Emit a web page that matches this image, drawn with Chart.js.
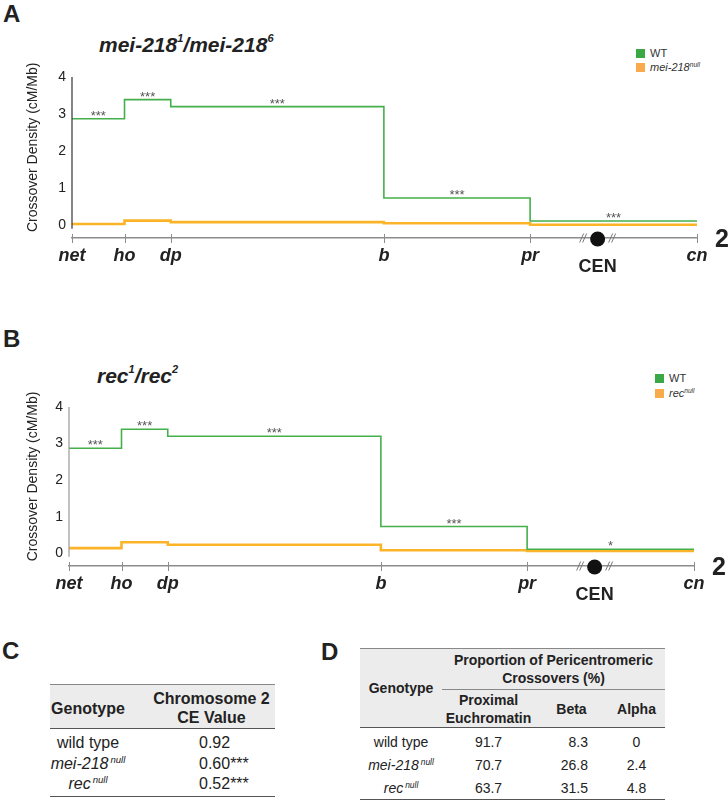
<!DOCTYPE html>
<html>
<head>
<meta charset="utf-8">
<script src="https://cdn.jsdelivr.net/npm/chart.js@4.4.0/dist/chart.umd.min.js"></script>
<style>
  body { margin: 0; width: 728px; height: 800px; position: relative; overflow: hidden;
         background: #fff; color: #222; font-family: "Liberation Sans", Arial, sans-serif; }
  .abs { position: absolute; white-space: nowrap; }
  .letter { font-weight: bold; font-size: 24px; line-height: 24px; }
  .ttl { font-weight: bold; font-style: italic; font-size: 21px; line-height: 21px; }
  .ttl sup { font-size: 11px; line-height: 0; vertical-align: 0; position: relative; top: -0.9em; }
  .sw { width: 9px; height: 9px; }
  .lg { font-size: 11px; line-height: 12px; color: #333; }
  sup.n { font-size: 60%; line-height: 0; vertical-align: 0; position: relative; top: -0.6em; margin-left: 2px; font-style: italic; }
  table { border-collapse: collapse; position: absolute; table-layout: fixed; }
  td, th { padding: 0; text-align: center; }
  thead { background: #ececec; }
  .tC { font-size: 16px; line-height: 19px; }
  .tD { font-size: 14px; line-height: 18px; }
</style>
</head>
<body>

<div class="abs letter" style="left:3px;top:2px">A</div>
<div class="abs ttl" style="left:99px;top:34px">mei-218<sup>1</sup>/mei-218<sup>6</sup></div>
<div class="abs sw" style="left:636px;top:49px;background:#3aa845"></div>
<div class="abs lg" style="left:650px;top:47px">WT</div>
<div class="abs sw" style="left:636px;top:63px;background:#f9ab4c"></div>
<div class="abs lg" style="left:650px;top:61px"><i>mei-218</i><sup class="n" style="margin-left:0">null</sup></div>
<div class="abs" style="left:0;top:60px;width:728px;height:230px"><canvas id="chartA" width="728" height="230"></canvas></div>

<div class="abs letter" style="left:3px;top:327px">B</div>
<div class="abs ttl" style="left:97px;top:365px">rec<sup>1</sup>/rec<sup>2</sup></div>
<div class="abs sw" style="left:655px;top:374px;background:#3aa845"></div>
<div class="abs lg" style="left:669px;top:372px">WT</div>
<div class="abs sw" style="left:655px;top:389px;background:#f9ab4c"></div>
<div class="abs lg" style="left:669px;top:387px"><i>rec</i><sup class="n" style="margin-left:0">null</sup></div>
<div class="abs" style="left:0;top:388px;width:728px;height:230px"><canvas id="chartB" width="728" height="230"></canvas></div>

<div class="abs letter" style="left:2px;top:639px">C</div>
<table class="tC" style="left:50px;top:684px;width:225px;border-top:1.5px solid #888;border-bottom:1.5px solid #555">
  <colgroup><col style="width:76px"><col style="width:149px"></colgroup>
  <thead style="border-bottom:1.5px solid #555">
    <tr style="height:44px"><th style="padding-top:3px">Genotype</th><th style="padding:3px 0 0 22px">Chromosome 2<br>CE Value</th></tr>
  </thead>
  <tbody>
    <tr style="height:24px"><td style="padding-top:4px">wild type</td><td style="padding-top:4px;text-align:left;padding-left:73px">0.92</td></tr>
    <tr style="height:21px"><td><i>mei-218</i><sup class="n">null</sup></td><td style="text-align:left;padding-left:73px">0.60***</td></tr>
    <tr style="height:23px"><td style="padding-bottom:3px"><i>rec</i><sup class="n">null</sup></td><td style="padding-bottom:3px;text-align:left;padding-left:73px">0.52***</td></tr>
  </tbody>
</table>

<div class="abs letter" style="left:321px;top:640px">D</div>
<table class="tD" style="left:360px;top:648px;width:305px;border-top:1.5px solid #888;border-bottom:1.5px solid #555">
  <colgroup><col style="width:82px"><col style="width:93px"><col style="width:73px"><col style="width:57px"></colgroup>
  <thead style="border-bottom:1.5px solid #555">
    <tr style="height:41px"><th rowspan="2">Genotype</th><th colspan="3" style="border-bottom:1px solid #888">Proportion of Pericentromeric<br>Crossovers (%)</th></tr>
    <tr style="height:38px"><th>Proximal<br>Euchromatin</th><th>Beta</th><th>Alpha</th></tr>
  </thead>
  <tbody>
    <tr style="height:26px"><td style="padding-top:3px">wild type</td><td style="padding-top:3px">91.7</td><td style="padding-top:3px;text-align:right;padding-right:20px">8.3</td><td style="padding-top:3px">0</td></tr>
    <tr style="height:23px"><td><i>mei-218</i><sup class="n">null</sup></td><td>70.7</td><td style="text-align:right;padding-right:20px">26.8</td><td>2.4</td></tr>
    <tr style="height:23px"><td><i>rec</i><sup class="n">null</sup></td><td>63.7</td><td style="text-align:right;padding-right:20px">31.5</td><td>4.8</td></tr>
  </tbody>
</table>

<script>
'use strict';

// ── Data ───────────────────────────────────────────────────────────────────────
const markerLabels = ['net', 'ho', 'dp', 'b', 'pr', 'cn'];
const markerPos = [0, 8.4, 15.8, 49.9, 73.3, 100];   // position along chromosome 2 (% of map)
const cenPos = 84.1;
const yTicks = [0, 1, 2, 3, 4];

// crossover density per interval (cM/Mb), net-ho, ho-dp, dp-b, b-pr, pr-cn
const wtDensity = [2.87, 3.39, 3.2, 0.73, 0.11];
const mei218Density = [0.03, 0.12, 0.08, 0.05, 0.01];
const recDensity = [0.14, 0.3, 0.23, 0.08, 0.06];

const mei218Stars = ['***', '***', '***', '***', '***'];
const recStars = ['***', '***', '***', '***', '*'];

const GREEN = '#45b04b';
const ORANGE = '#fbb428';
const FONT = '"Liberation Sans", Arial, sans-serif';

// ── Helpers ────────────────────────────────────────────────────────────────────

function toSteps(vals) {
  return markerPos.map((p, i) => ({ x: p, y: vals[Math.min(i, vals.length - 1)] }));
}

const markPlugin = {
  id: 'marks',
  afterDatasetsDraw(chart, args, opts) {
    const { ctx, chartArea, scales: { x, y } } = chart;
    const base = chartArea.bottom;
    ctx.save();

    // y axis line (stops short of the chromosome line)
    ctx.strokeStyle = opts.axisColor;
    ctx.lineWidth = 1.2;
    ctx.beginPath();
    ctx.moveTo(chartArea.left, y.getPixelForValue(4));
    ctx.lineTo(chartArea.left, y.getPixelForValue(-0.1));
    ctx.stroke();

    // y axis title, centred on the 0-4 range
    ctx.save();
    ctx.translate(33, (y.getPixelForValue(4.2) + y.getPixelForValue(0)) / 2);
    ctx.rotate(-Math.PI / 2);
    ctx.fillStyle = '#222';
    ctx.font = '14px ' + FONT;
    ctx.textAlign = 'center';
    ctx.textBaseline = 'middle';
    ctx.fillText('Crossover Density (cM/Mb)', 0, 0);
    ctx.restore();

    // marker ticks across the chromosome line
    ctx.strokeStyle = '#8c8c8c';
    ctx.lineWidth = 1;
    markerPos.forEach(v => {
      const px = Math.round(x.getPixelForValue(v)) + 0.5;
      ctx.beginPath();
      ctx.moveTo(px, base - 4);
      ctx.lineTo(px, base + 5);
      ctx.stroke();
    });

    // significance stars above the WT steps
    ctx.fillStyle = '#555';
    ctx.font = '13px ' + FONT;
    ctx.textAlign = 'center';
    ctx.textBaseline = 'alphabetic';
    opts.stars.forEach((s, i) => {
      const cx = (x.getPixelForValue(markerPos[i]) + x.getPixelForValue(markerPos[i + 1])) / 2;
      ctx.fillText(s, cx, y.getPixelForValue(wtDensity[i]) + 1);
    });

    // centromere: break marks, dot, label
    const cx = x.getPixelForValue(cenPos);
    ctx.strokeStyle = '#777';
    ctx.lineWidth = 1;
    [-16, -13, 13, 16].forEach(d => {
      ctx.beginPath();
      ctx.moveTo(cx + d - 2, base + 4.5);
      ctx.lineTo(cx + d + 2, base - 4.5);
      ctx.stroke();
    });
    ctx.fillStyle = '#111';
    ctx.beginPath();
    ctx.arc(cx, base + 1, 7.5, 0, Math.PI * 2);
    ctx.fill();

    ctx.fillStyle = '#222';
    ctx.font = 'bold 18px ' + FONT;
    ctx.textBaseline = 'middle';
    ctx.fillText('CEN', cx, base + 29);

    // chromosome number
    ctx.font = 'bold 25px ' + FONT;
    ctx.textAlign = 'left';
    ctx.fillText('2', x.right + 18, base + 2);

    ctx.restore();
  }
};

function makeChart(id, mutVals, stars, leftW, rightPad, topPad, axisColor) {
  return new Chart(document.getElementById(id), {
    type: 'line',
    data: {
      datasets: [
        { label: 'WT', data: toSteps(wtDensity), borderColor: GREEN, borderWidth: 1.6,
          stepped: true, pointRadius: 0, fill: false },
        { label: 'mutant', data: toSteps(mutVals), borderColor: ORANGE, borderWidth: 2.6,
          stepped: true, pointRadius: 0, fill: false },
      ],
    },
    options: {
      responsive: false,
      animation: false,
      devicePixelRatio: 1,
      layout: { padding: { left: 0, right: rightPad, top: topPad, bottom: 0 } },
      plugins: {
        legend: { display: false },
        tooltip: { enabled: false },
        marks: { stars, axisColor },
      },
      scales: {
        x: {
          type: 'linear',
          min: 0,
          max: 100,
          grid: { display: false, drawTicks: false },
          border: { display: true, color: '#8c8c8c', width: 1.5 },
          afterBuildTicks: s => { s.ticks = markerPos.map(v => ({ value: v })); },
          afterFit: s => { s.height = 52; },
          ticks: {
            autoSkip: false,
            maxRotation: 0,
            padding: 7,
            color: '#222',
            font: { family: FONT, size: 18, weight: 'bold', style: 'italic' },
            callback: (v, i) => markerLabels[i],
          },
        },
        y: {
          min: -0.35,
          max: 4,
          grid: { display: false, drawTicks: false },
          border: { display: false },
          afterBuildTicks: s => { s.ticks = yTicks.map(v => ({ value: v })); },
          afterFit: s => { s.width = leftW; },
          ticks: { padding: 6, color: '#222', font: { family: FONT, size: 14 } },
        },
      },
    },
    plugins: [markPlugin],
  });
}

// ── Bootstrap ──────────────────────────────────────────────────────────────────

makeChart('chartA', mei218Density, mei218Stars, 72, 31, 17, '#333');
makeChart('chartB', recDensity, recStars, 69, 34, 19, '#999');
</script>
</body>
</html>
